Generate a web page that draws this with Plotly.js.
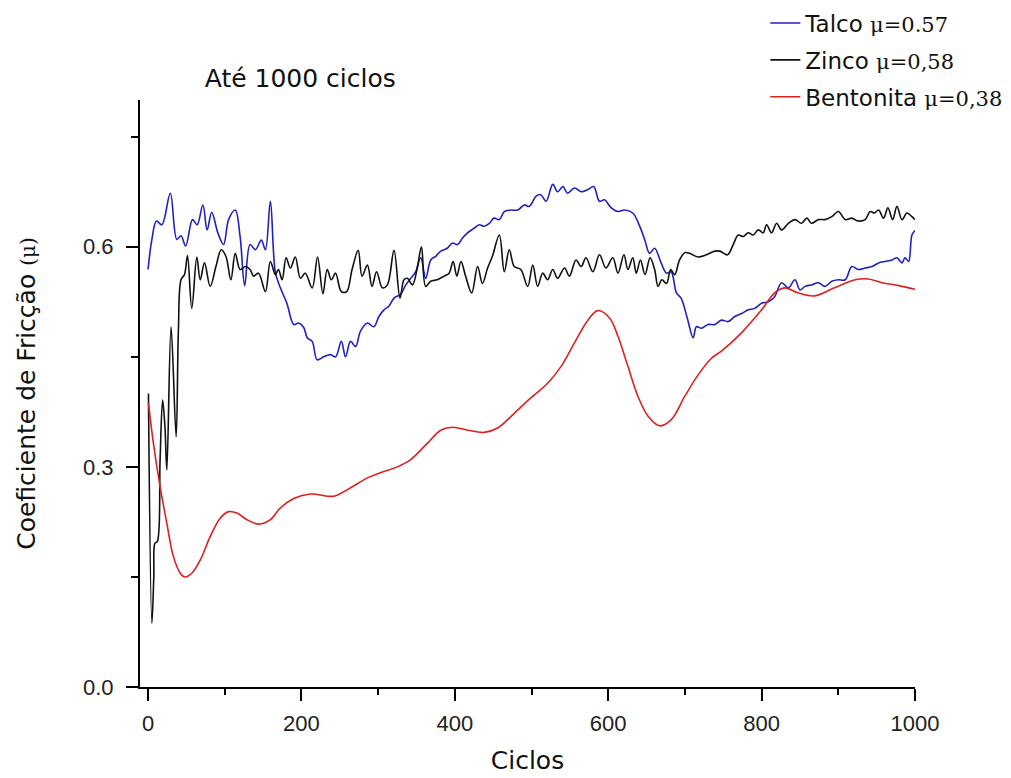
<!DOCTYPE html>
<html>
<head>
<meta charset="utf-8">
<script src="https://cdn.plot.ly/plotly-3.0.1.min.js"></script>
<style>html,body{margin:0;padding:0;background:#fff;}#chart{width:1011px;height:778px;}</style>
</head>
<body>
<div id="chart"></div>
<script>
const seriesNames = ["Talco", "Zinco", "Bentonita"];
const muLabels = ["μ=0.57", "μ=0,58", "μ=0,38"];

const talcoX = [0,5,11,18,29,37.5,43,49,58,64,71.5,77,83,91,98.5,105,113.7,120,126,133,140,147.7,153,159.5,166,172.5,181,190,196.5,203,207.5,214,220.5,229,238,244.5,252,257.5,264,270.6,277,286,294.5,301,307.6,314,320.7,329,336,342.5,349,355.5,362,368.6,375,381.7,390,397,403.5,410,416.6,425,432,438,445,451,458,464.5,473,482,490.6,497,506,512,519,527.7,534,541,547,556,565,573.5,581,588.6,595,604,612.7,621,632,641,647.5,654,660.5,669,676,682,689,695,703,710.7,715,721.6,730,739,747.7,756.5,765,774,782.6,791,800,808.7,817,826,835,843.5,850,856.6,865,874,882.7,891.5,900,909,917.6,926,935,943.8,952.5,961,970,976.5,983,987,991.7,996,1000];
const talcoY = [0.569,0.610,0.635,0.630,0.673,0.610,0.615,0.601,0.637,0.630,0.657,0.623,0.647,0.619,0.603,0.637,0.650,0.614,0.547,0.603,0.596,0.609,0.596,0.662,0.565,0.544,0.523,0.494,0.496,0.490,0.476,0.471,0.446,0.450,0.453,0.450,0.471,0.450,0.471,0.464,0.485,0.496,0.491,0.505,0.514,0.519,0.530,0.535,0.548,0.557,0.566,0.585,0.557,0.582,0.587,0.594,0.598,0.605,0.603,0.612,0.619,0.625,0.630,0.628,0.632,0.639,0.637,0.648,0.650,0.650,0.657,0.655,0.669,0.671,0.662,0.685,0.675,0.682,0.673,0.680,0.675,0.678,0.682,0.662,0.664,0.653,0.648,0.650,0.646,0.628,0.610,0.591,0.598,0.578,0.564,0.566,0.537,0.530,0.503,0.476,0.491,0.489,0.494,0.494,0.500,0.498,0.505,0.509,0.514,0.516,0.523,0.525,0.532,0.551,0.544,0.555,0.541,0.546,0.548,0.551,0.546,0.553,0.555,0.555,0.573,0.569,0.571,0.573,0.578,0.580,0.582,0.585,0.578,0.585,0.580,0.616,0.622];

const zincoX = [0.5,5,7.5,9,12,15.7,19,22,24.5,30,36.6,39.6,43,47.5,51.4,57,63.6,68,73.6,81,88.5,95.4,101.5,108,113.7,120,126.8,133,137.6,144,153,159.5,166,170,174.8,180,185.6,192,198.7,205,214,221,228,233.6,239,244.5,252,259,266,274,279,286,292,298,305.5,312,320.7,328.5,333.7,338,344.7,351,356.5,362,368.6,377,386,392.5,397.8,402.6,408,414,422,429.7,436,442.7,449,458,464.5,471,477.5,486,495,501.6,508,514.6,521,527.7,534,543,549.4,558,564.7,571,580,588.6,597,606,612.7,620.5,625.7,632,636.6,642,648,654.6,660.5,665,670,676,681.5,686.7,693,700,706,717,728,739,745.5,755.5,763,769.5,776,782.6,789,795.7,802,806.5,813,819.6,826,835,843.5,852,859,865,874,882.7,891.5,900,909,917.6,926,935,941.6,947,952.5,959,964.7,970.8,976.5,983,989.5,996,1000];
const zincoY = [0.400,0.087,0.150,0.196,0.198,0.310,0.391,0.355,0.296,0.491,0.341,0.487,0.555,0.562,0.588,0.516,0.586,0.555,0.578,0.546,0.573,0.596,0.587,0.555,0.591,0.569,0.573,0.569,0.560,0.564,0.539,0.580,0.562,0.569,0.555,0.585,0.571,0.586,0.557,0.564,0.544,0.586,0.536,0.569,0.555,0.564,0.539,0.539,0.569,0.595,0.560,0.575,0.546,0.566,0.544,0.548,0.595,0.530,0.555,0.557,0.548,0.571,0.600,0.546,0.553,0.555,0.560,0.564,0.580,0.560,0.580,0.560,0.537,0.573,0.550,0.571,0.587,0.616,0.566,0.596,0.573,0.569,0.546,0.575,0.546,0.564,0.555,0.569,0.557,0.571,0.560,0.582,0.573,0.585,0.566,0.589,0.571,0.585,0.564,0.589,0.569,0.585,0.564,0.582,0.562,0.585,0.569,0.546,0.555,0.550,0.569,0.562,0.582,0.592,0.591,0.586,0.589,0.594,0.594,0.589,0.603,0.616,0.614,0.619,0.616,0.623,0.619,0.630,0.619,0.632,0.623,0.632,0.637,0.632,0.639,0.632,0.637,0.637,0.641,0.648,0.637,0.639,0.635,0.637,0.648,0.646,0.650,0.639,0.653,0.637,0.655,0.637,0.646,0.641,0.637];

const bentonitaX = [0.5,7,15.7,24.5,33,42,48,57,68,81,94,105,116,129,144,159.5,172.5,190,212,242,260,286,303,325,342.5,364,381.7,397,416.6,438,455.8,477.5,499,521,538.6,556,573.5,586.5,601.7,612.7,625.7,638.8,652,667,682,699.7,717,734.6,748,774,800,817,830,848,869,895,922,939,957,979,1000];
const bentonitaY = [0.387,0.332,0.273,0.223,0.178,0.155,0.150,0.155,0.173,0.205,0.230,0.239,0.237,0.228,0.222,0.228,0.244,0.257,0.263,0.260,0.269,0.285,0.292,0.300,0.310,0.332,0.350,0.354,0.350,0.347,0.353,0.373,0.394,0.414,0.437,0.469,0.500,0.513,0.503,0.478,0.437,0.396,0.369,0.356,0.364,0.396,0.425,0.448,0.458,0.483,0.514,0.537,0.544,0.537,0.533,0.544,0.555,0.556,0.551,0.547,0.542];

const xTickVals = [0, 200, 400, 600, 800, 1000];
const yTickVals = [0, 0.3, 0.6];
const yTickText = ["0.0", "0.3", "0.6"];

const colors = ["#2020c0", "#111111", "#dd2020"];
const xs = [talcoX, zincoX, bentonitaX];
const ys = [talcoY, zincoY, bentonitaY];

function legendName(i) {
  return seriesNames[i] + ' <span style="font-family:DejaVu Serif;font-size:21px">' + muLabels[i] + '</span>';
}

const traces = xs.map((x, i) => ({
  type: 'scatter',
  mode: 'lines',
  x: x,
  y: ys[i],
  name: legendName(i),
  legendgroup: 'g' + i,
  line: {color: colors[i], width: 1.6, shape: 'spline', smoothing: 1}
}));

const axisFont = {family: 'Liberation Sans, Arial, sans-serif', size: 22, color: '#222'};
const titleFontFamily = 'DejaVu Sans, sans-serif';

const layout = {
  width: 1011,
  height: 778,
  paper_bgcolor: '#ffffff',
  plot_bgcolor: '#ffffff',
  margin: {l: 140, r: 96, t: 100, b: 91, autoexpand: false},
  showlegend: true,
  title: {
    text: 'Até 1000 ciclos',
    font: {family: titleFontFamily, size: 25, color: '#111'},
    xref: 'container', yref: 'container',
    x: 0.297, xanchor: 'center',
    y: 0.9, yanchor: 'middle'
  },
  legend: {
    xref: 'container', yref: 'container',
    x: 0.757, xanchor: 'left',
    y: 0.998, yanchor: 'top',
    font: {family: titleFontFamily, size: 23, color: '#111'},
    bgcolor: 'rgba(0,0,0,0)',
    traceorder: 'grouped',
    tracegroupgap: 4
  },
  xaxis: {
    range: [-10.5, 1000],
    showgrid: false, zeroline: false,
    showline: true, linecolor: '#000', linewidth: 2,
    ticks: 'outside', ticklen: 12, tickwidth: 2, tickcolor: '#000',
    tickvals: xTickVals,
    tickfont: axisFont,
    ticklabelstandoff: 4,
    minor: {ticks: 'outside', ticklen: 6, tickwidth: 2, tickcolor: '#000', dtick: 100, tick0: 0},
    title: {text: 'Ciclos', font: {family: titleFontFamily, size: 25, color: '#111'}, standoff: 16}
  },
  yaxis: {
    range: [0, 0.8],
    showgrid: false, zeroline: false,
    showline: true, linecolor: '#000', linewidth: 2,
    ticks: 'outside', ticklen: 12, tickwidth: 2, tickcolor: '#000',
    tickvals: yTickVals, ticktext: yTickText,
    tickfont: axisFont,
    ticklabelstandoff: 8,
    minor: {ticks: 'outside', ticklen: 7, tickwidth: 2, tickcolor: '#000', dtick: 0.15, tick0: 0},
    title: {text: 'Coeficiente de Fricção <span style="font-family:DejaVu Serif;font-size:20px">(μ)</span>', font: {family: titleFontFamily, size: 25, color: '#111'}, standoff: 40}
  }
};

Plotly.newPlot('chart', traces, layout, {displayModeBar: false, staticPlot: true});
</script>
</body>
</html>
